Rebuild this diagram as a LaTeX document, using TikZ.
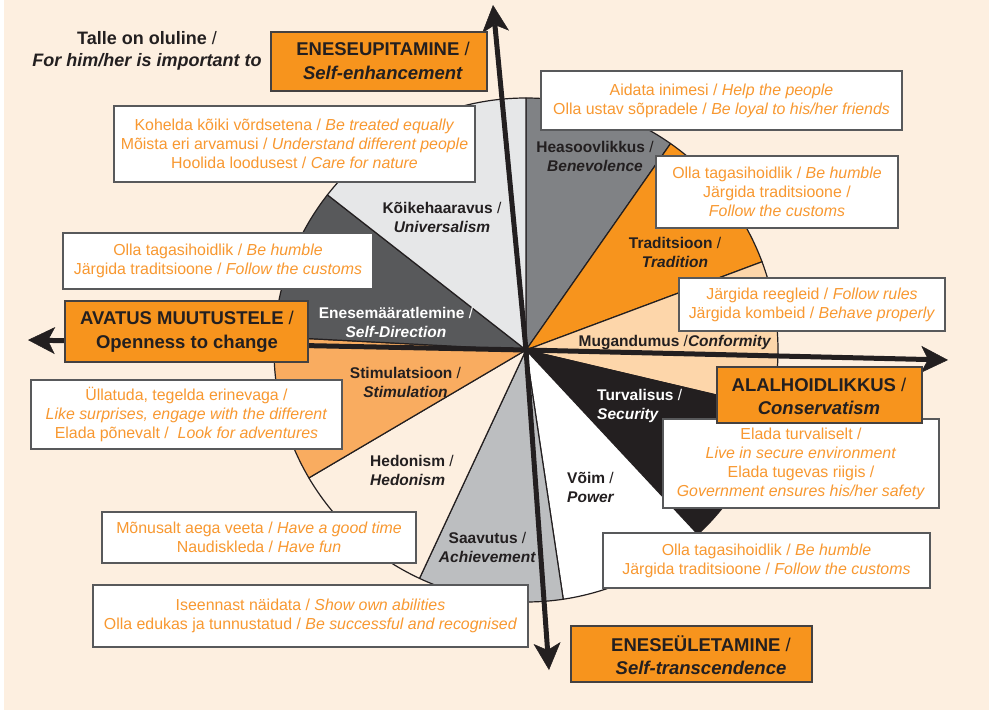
\documentclass[tikz,border=0pt]{standalone}
\usepackage{fontspec}
\setmainfont{Liberation Sans}
\usetikzlibrary{arrows.meta}
\definecolor{bg}{RGB}{253,239,224}
\definecolor{org}{RGB}{247,148,29}
\definecolor{orgtext}{RGB}{248,152,48}
\definecolor{blk}{RGB}{35,31,32}
\definecolor{bene}{RGB}{128,130,133}
\definecolor{conf}{RGB}{253,214,170}
\definecolor{achi}{RGB}{188,190,192}
\definecolor{stim}{RGB}{249,172,96}
\definecolor{sdir}{RGB}{88,89,91}
\definecolor{univ}{RGB}{230,231,232}
\definecolor{boxline}{RGB}{88,89,91}
\tikzset{axtip/.tip={Stealth[length=27pt,width=27pt,inset=7pt,line width=0.5pt]}}
\begin{document}
\begin{tikzpicture}[x=1pt,y=-1pt,
  wbox/.style={draw=boxline, line width=1.1pt, fill=white, inner sep=0pt, align=center, text=orgtext, font=\fontsize{15.9}{19}\selectfont},
  obox/.style={draw=blk!85, line width=1.4pt, fill=org, inner sep=0pt},
  otext/.style={align=center, text=blk, font=\fontsize{18.5}{23.5}\selectfont\bfseries, inner sep=0pt},
  slab/.style={align=center, text=blk, font=\fontsize{15.5}{19}\selectfont\bfseries, inner sep=0pt},
  sector/.style={draw=blk, line width=1.2pt, line join=round},
  axis/.style={line width=5pt, draw=blk, line join=round, {axtip}-{axtip}}
]
\useasboundingbox (0,0) rectangle (989,710);
\fill[white] (0,0) rectangle (989,710);
\fill[bg] (4,0) rectangle (989,710);

% pie
\coordinate (c) at (526,350);
\begin{scope}[shift={(526,350)}, yscale=-1]
\foreach \a/\b/\col in {55/90/bene, 20.5/55/org, -13.3/20.5/conf, -47/-13.3/blk, -81.5/-47/white, -115/-81.5/achi, -149.5/-115/bg, -183/-149.5/stim, 142/177/sdir, 90/142/univ}
  \filldraw[sector, fill=\col] (0,0) -- (\a:252) arc[start angle=\a, end angle=\b, radius=252] -- cycle;
\end{scope}

% sector labels
\node[slab] (lbene) at (595,156.5) {Heasoovlikkus {\mdseries /}\\\textit{Benevolence}};
\node[slab] (luniv) at (442,217) {Kõikehaaravus {\mdseries /}\\\textit{Universalism}};
\node[slab] (ltrad) at (675,252.5) {Traditsioon {\mdseries /}\\\textit{Tradition}};
\node[slab] (lconf) at (675,343) {Mugandumus {\mdseries /}\textit{Conformity}};
\node[slab, text=white, anchor=west, align=left] (lsecu) at (597,406) {Turvalisus {\mdseries /}\\\textit{Security}};
\node[slab, text=white] (lsdir) at (396,322.5) {Enesemääratlemine {\mdseries /}\\\textit{Self-Direction}};
\node[slab] (lstim) at (405.5,382.5) {Stimulatsioon {\mdseries /}\\\textit{Stimulation}};
\node[slab, anchor=west, align=left] (lhedo) at (370,470.5) {Hedonism {\mdseries /}\\\textit{Hedonism}};
\node[slab] (lachi) at (487.5,547.5) {Saavutus {\mdseries /}\\\textit{Achievement}};
\node[slab, anchor=west, align=left] (lpow) at (567,487.5) {Võim {\mdseries /}\\\textit{Power}};

% axes
\coordinate (top) at (493,5);
\coordinate (bot) at (549,670);
\coordinate (lft) at (28,340);
\coordinate (rgt) at (948,360);
\draw[axis] (top) -- (c) -- (bot);
\draw[axis] (lft) -- (c) -- (rgt);

% title
\node[align=center, font=\fontsize{18}{22}\selectfont\bfseries, text=blk, inner sep=0pt] (title) at (147,51) {Talle on oluline {\mdseries /}\\\textit{For him/her is important to}};

% white value boxes
\node[wbox, minimum width=361pt, minimum height=76pt] (buniv) at (294.5,144) {Kohelda kõiki võrdsetena / \textit{Be treated equally}\\Mõista eri arvamusi / \textit{Understand different people}\\Hoolida loodusest / \textit{Care for nature}};
\node[wbox, minimum width=361pt, minimum height=59pt] (bbene) at (721.5,100.5) {Aidata inimesi / \textit{Help the people}\\Olla ustav sõpradele / \textit{Be loyal to his/her friends}};
\node[wbox, minimum width=242pt, minimum height=72pt] (btrad) at (777,192) {Olla tagasihoidlik / \textit{Be humble}\\Järgida traditsioone /\\\textit{Follow the customs}};
\node[wbox, minimum width=310pt, minimum height=56pt] (bsdir) at (218,261) {Olla tagasihoidlik / \textit{Be humble}\\Järgida traditsioone / \textit{Follow the customs}};
\node[wbox, minimum width=311pt, minimum height=69pt] (bstim) at (186.5,414.5) {Üllatuda, tegelda erinevaga /\\\textit{Like surprises, engage with the different}\\Elada põnevalt /\ \ \textit{Look for adventures}};
\node[wbox, minimum width=266pt, minimum height=53pt] (bconf) at (812,304.5) {Järgida reegleid / \textit{Follow rules}\\Järgida kombeid / \textit{Behave properly}};
\node[wbox, minimum width=276pt, minimum height=89pt] (bsecu) at (801,463.5) {Elada turvaliselt /\\\textit{Live in secure environment}\\Elada tugevas riigis /\\\textit{Government ensures his/her safety}};
\node[wbox, minimum width=327pt, minimum height=55pt] (bpow) at (766.5,560.5) {Olla tagasihoidlik / \textit{Be humble}\\Järgida traditsioone / \textit{Follow the customs}};
\node[wbox, minimum width=314pt, minimum height=51pt] (bhedo) at (259,537.5) {Mõnusalt aega veeta / \textit{Have a good time}\\Naudiskleda / \textit{Have fun}};
\node[wbox, minimum width=435pt, minimum height=62pt] (bachi) at (310.5,616) {Iseennast näidata / \textit{Show own abilities}\\Olla edukas ja tunnustatud / \textit{Be successful and recognised}};

% orange dimension boxes
\node[obox, minimum width=216pt, minimum height=59pt] (oenh) at (379,61.5) {};
\node[otext] (tenh) at (383,61) {ENESEUPITAMINE {\mdseries /}\\\textit{Self-enhancement}};
\node[obox, minimum width=243pt, minimum height=61pt] (oopen) at (186.5,331.5) {};
\node[otext] (topen) at (187,332) {AVATUS MUUTUSTELE {\mdseries /}\\Openness to change};
\node[obox, minimum width=205pt, minimum height=56pt] (ocons) at (819.5,395) {};
\node[otext] (tcons) at (819,396.5) {ALALHOIDLIKKUS {\mdseries /}\\\textit{Conservatism}};
\node[obox, minimum width=241pt, minimum height=56pt] (otrans) at (691.5,654) {};
\node[otext] (ttrans) at (701,655) {ENESEÜLETAMINE {\mdseries /}\\\textit{Self-transcendence}};
\end{tikzpicture}
\end{document}
